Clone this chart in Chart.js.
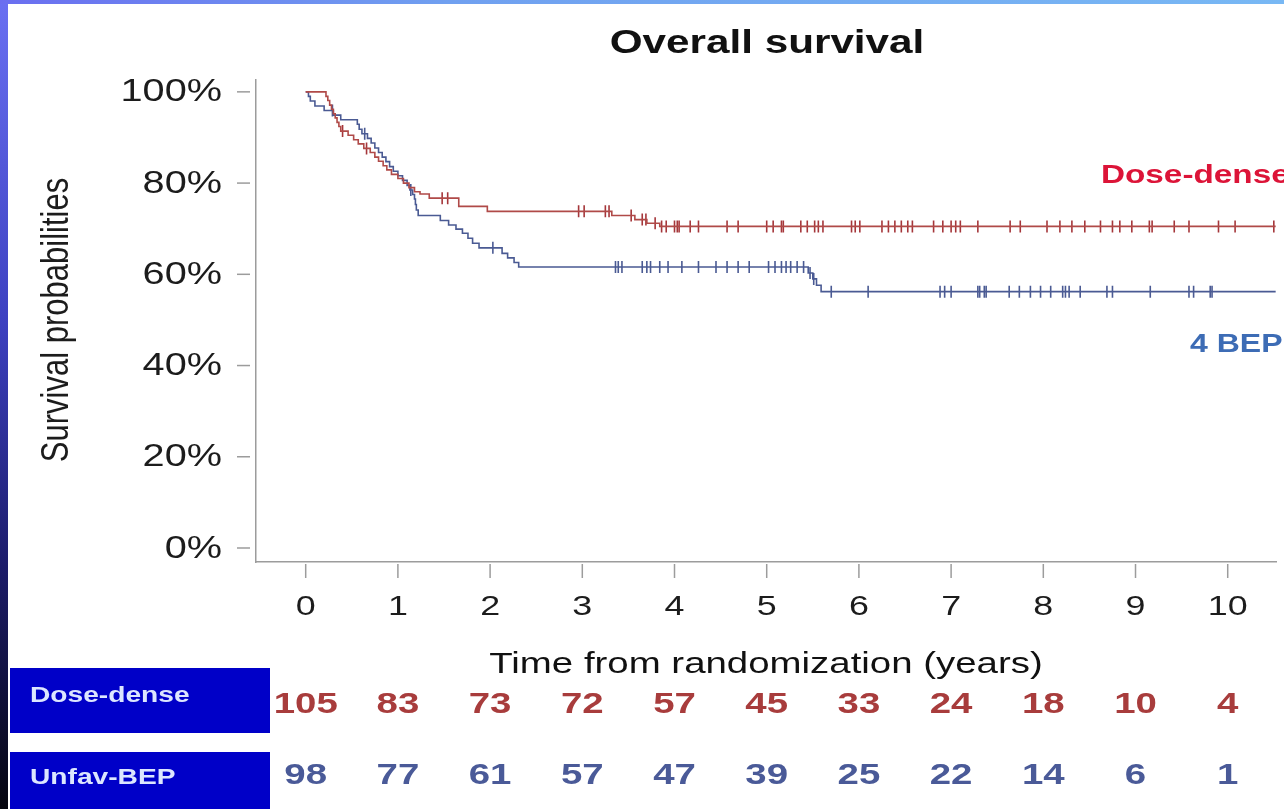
<!DOCTYPE html>
<html><head><meta charset="utf-8">
<script src="https://cdn.jsdelivr.net/npm/chart.js@4.4.1/dist/chart.umd.min.js"></script>
<style>html,body{margin:0;padding:0;background:#fff;overflow:hidden}canvas{display:block}</style>
</head><body>
<canvas id="c" width="1284" height="809"></canvas>
<script>
// ---- data ----
const yearTicks = [0,1,2,3,4,5,6,7,8,9,10];
const survTicks = [0,20,40,60,80,100];
const riskDoseDense = [105,83,73,72,57,45,33,24,18,10,4];
const riskBEP = [98,77,61,57,47,39,25,22,14,6,1];

const ddTimes = [0,0.22,0.24,0.26,0.28,0.30,0.32,0.34,0.36,0.38,0.46,0.52,0.57,0.63,0.70,0.75,0.79,0.84,0.88,0.93,1.00,1.06,1.12,1.18,1.24,1.34,1.66,1.97,3.32,3.57,3.70,3.84,10.52];
const ddSurv  = [100,99.0,98.1,97.1,96.2,95.2,94.3,93.3,92.4,91.4,90.5,89.5,88.6,87.6,86.7,85.7,84.8,83.8,82.9,81.9,81.0,80.0,79.0,78.1,77.6,76.7,74.9,73.8,72.9,72.0,71.2,70.5,70.5];
const ddCensor = [0.40,0.66,1.48,1.54,2.96,3.02,3.25,3.29,3.53,3.65,3.69,3.79,3.86,3.91,4.00,4.03,4.05,4.17,4.26,4.57,4.69,5.00,5.07,5.16,5.18,5.37,5.44,5.52,5.56,5.61,5.92,5.96,6.01,6.25,6.32,6.39,6.46,6.53,6.58,6.81,6.91,7.00,7.05,7.10,7.29,7.64,7.75,8.04,8.18,8.31,8.45,8.62,8.75,8.83,8.96,9.15,9.18,9.42,9.58,9.90,10.08,10.50];

const bepTimes = [0,0.03,0.05,0.10,0.20,0.30,0.38,0.56,0.58,0.61,0.67,0.71,0.75,0.79,0.83,0.87,0.91,0.95,1.00,1.05,1.10,1.13,1.16,1.18,1.19,1.20,1.22,1.46,1.55,1.63,1.70,1.76,1.81,1.88,2.13,2.19,2.26,2.31,5.45,5.50,5.54,5.59,10.52];
const bepSurv  = [100,99.0,98.0,96.9,95.9,94.9,93.9,92.9,91.8,90.8,89.8,88.8,87.7,86.7,85.7,84.7,83.6,82.6,81.6,80.6,79.5,78.5,77.5,76.5,75.3,74.1,72.9,71.8,70.8,69.9,69.0,67.9,66.8,65.8,64.6,63.6,62.6,61.6,60.3,59.0,57.6,56.2,56.2];
const bepCensor = [0.29,0.64,1.14,2.03,3.36,3.39,3.43,3.65,3.70,3.74,3.84,3.93,4.08,4.26,4.45,4.57,4.69,4.81,5.02,5.09,5.16,5.21,5.26,5.33,5.40,5.47,5.51,5.70,6.10,6.88,6.93,7.00,7.29,7.31,7.36,7.38,7.63,7.74,7.86,7.97,8.08,8.21,8.24,8.28,8.40,8.69,8.75,9.16,9.58,9.63,9.81,9.83];

const titleText = 'Overall survival';
const xTitle = 'Time from randomization (years)';
const yTitle = 'Survival probabilities';
const groupLabels = ['Dose-dense','4 BEP'];
const rowLabels = ['Dose-dense','Unfav-BEP'];

// ---- helpers ----
const RED = '#b04a48', RED_MARK = '#a5363a', BLUE = '#4a5a93';
function pts(ts, ss){ return ts.map((t,i)=>({x:t,y:ss[i]})); }
function stepAt(ts, ss, t){ let v = ss[0]; for (let i=0;i<ts.length;i++){ if (ts[i] <= t) v = ss[i]; } return v; }
function censorPts(cs, ts, ss){ return cs.map(t=>({x:t,y:stepAt(ts,ss,t)})); }

const FONT = '"Liberation Sans", Arial, sans-serif';
const SX = 1.28;
function txt(ctx, s, x, y, size, bold, color, align){
  ctx.save();
  ctx.font = (bold?'bold ':'') + size + 'px ' + FONT;
  ctx.fillStyle = color; ctx.textAlign = align; ctx.textBaseline = 'middle';
  ctx.translate(x,y); ctx.scale(SX,1); ctx.fillText(s,0,0);
  ctx.restore();
}

const deco = {
  id:'deco',
  beforeDraw(chart){
    const ctx = chart.ctx, W = chart.width, H = chart.height;
    ctx.save();
    ctx.fillStyle = '#ffffff'; ctx.fillRect(0,0,W,H);
    let g = ctx.createLinearGradient(0,0,0,H);
    g.addColorStop(0,'#6a70f2'); g.addColorStop(0.4,'#3c40c0'); g.addColorStop(0.7,'#1c1c6a'); g.addColorStop(1,'#06060f');
    ctx.fillStyle = g; ctx.fillRect(0,0,8,H);
    g = ctx.createLinearGradient(0,0,W,0);
    g.addColorStop(0,'#6a6ef0'); g.addColorStop(0.35,'#70a0f0'); g.addColorStop(1,'#78b8f4');
    ctx.fillStyle = g; ctx.fillRect(0,0,W,4);
    ctx.restore();
  },
  afterDraw(chart){
    const ctx = chart.ctx, xs = chart.scales.x, ys = chart.scales.y;
    ctx.save();
    ctx.strokeStyle = '#9c9c9c'; ctx.lineWidth = 1.5;
    survTicks.forEach(v=>{
      const y = ys.getPixelForValue(v);
      ctx.beginPath(); ctx.moveTo(237,y); ctx.lineTo(250,y); ctx.stroke();
      txt(ctx, v+'%', 222, y+1, 31, false, '#1c1c1c', 'right');
    });
    yearTicks.forEach(v=>{
      const x = xs.getPixelForValue(v);
      ctx.beginPath(); ctx.moveTo(x,564); ctx.lineTo(x,578); ctx.stroke();
      txt(ctx, String(v), x, 607, 28, false, '#1c1c1c', 'center');
    });
    ctx.restore();
    // titles
    txt(ctx, titleText, 767, 44, 33, true, '#111', 'center');
    txt(ctx, xTitle, 766, 665, 30, false, '#111', 'center');
    ctx.save();
    ctx.font = '31px ' + FONT; ctx.fillStyle = '#1c1c1c'; ctx.textAlign='center'; ctx.textBaseline='middle';
    ctx.translate(57,320); ctx.rotate(-Math.PI/2); ctx.scale(1,SX); ctx.fillText(yTitle,0,0);
    ctx.restore();
    // group labels
    txt(ctx, groupLabels[0], 1101, 176, 26, true, '#dc1438', 'left');
    txt(ctx, groupLabels[1], 1190, 345, 25, true, '#3d6cb5', 'left');
    // risk table
    ctx.save();
    ctx.fillStyle = '#0000c8';
    ctx.fillRect(10,668,260,65);
    ctx.fillRect(10,752,260,57);
    ctx.restore();
    txt(ctx, rowLabels[0], 30, 696, 22, true, '#dce6ff', 'left');
    txt(ctx, rowLabels[1], 30, 778, 22, true, '#dce6ff', 'left');
    yearTicks.forEach((v,i)=>{
      const x = xs.getPixelForValue(v);
      txt(ctx, String(riskDoseDense[i]), x, 705, 30, true, '#a83c3c', 'center');
      txt(ctx, String(riskBEP[i]), x, 776, 30, true, '#4a5a98', 'center');
    });
  }
};

new Chart(document.getElementById('c'), {
  type: 'scatter',
  data: { datasets: [
    { data: pts(ddTimes, ddSurv), showLine:true, stepped:true, borderColor:RED, borderWidth:1.6, pointRadius:0, fill:false },
    { data: pts(bepTimes, bepSurv), showLine:true, stepped:true, borderColor:BLUE, borderWidth:1.6, pointRadius:0, fill:false },
    { data: censorPts(ddCensor, ddTimes, ddSurv), showLine:false, pointStyle:'line', rotation:90, radius:6, borderColor:RED_MARK, borderWidth:1.6, backgroundColor:RED_MARK },
    { data: censorPts(bepCensor, bepTimes, bepSurv), showLine:false, pointStyle:'line', rotation:90, radius:6, borderColor:BLUE, borderWidth:1.6, backgroundColor:BLUE }
  ]},
  options: {
    responsive:false, animation:false, devicePixelRatio:1,
    layout:{ padding:{ left:0, top:80, right:1, bottom:227 } },
    plugins:{ legend:{display:false}, tooltip:{enabled:false}, title:{display:false} },
    scales:{
      x:{ type:'linear', min:-0.539, max:10.528,
          ticks:{display:false}, grid:{display:true, drawOnChartArea:false, drawTicks:false, color:'rgba(0,0,0,0)'},
          border:{display:true, color:'#9c9c9c', width:1.5},
          afterFit(s){ s.height = 20; } },
      y:{ type:'linear', min:-3.07, max:102.6,
          ticks:{display:false}, grid:{display:true, drawOnChartArea:false, drawTicks:false, color:'rgba(0,0,0,0)'},
          border:{display:true, color:'#9c9c9c', width:1.5},
          afterFit(s){ s.width = 256; } }
    }
  },
  plugins:[deco]
});
</script>
</body></html>
